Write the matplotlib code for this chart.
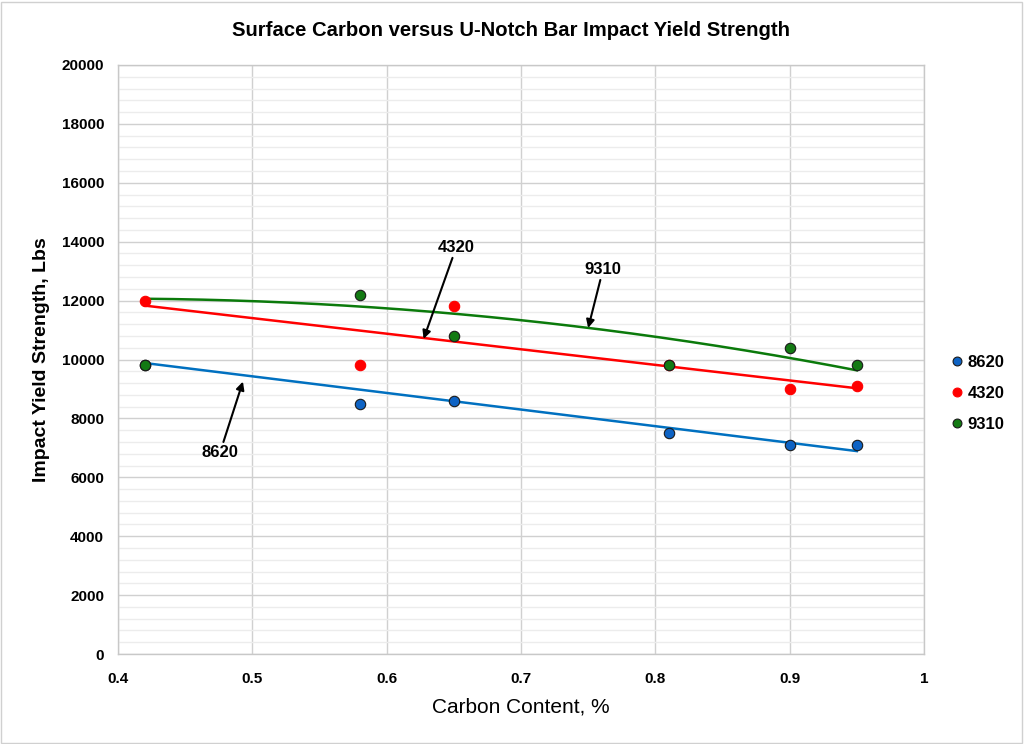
import numpy as np
import matplotlib
matplotlib.use("Agg")
import matplotlib.pyplot as plt
from matplotlib.ticker import MultipleLocator
from matplotlib.patches import Rectangle

plt.rcParams['font.family'] = ['Liberation Sans', 'DejaVu Sans']

# ---- data ----
carbon = [0.42, 0.58, 0.65, 0.81, 0.90, 0.95]
y_8620 = [9800, 8500, 8600, 7500, 7100, 7100]
y_4320 = [12000, 9800, 11800, 9800, 9000, 9100]
y_9310 = [9800, 12200, 10800, 9800, 10400, 9800]

# trendline readings (as drawn in the reference)
trend_x_8620 = [0.42, 0.95]
trend_y_8620 = [9880, 6890]
trend_x_9310 = [0.42, 0.50, 0.58, 0.70, 0.81, 0.90, 0.95]
trend_y_9310 = [12020, 12000, 11850, 11400, 10570, 10020, 9710]

colors = {"8620": "#0E63C4", "4320": "#FF0000", "9310": "#137A13"}
line_colors = {"8620": "#0070C0", "4320": "#FF0000", "9310": "#0B7A0B"}

fig = plt.figure(figsize=(10.24, 7.44), dpi=100)
W, H = 1024, 744
ax = fig.add_axes([118 / W, 1 - 654 / H, (924 - 118) / W, (654 - 65) / H])

# outer chart border
fig.patches.append(Rectangle((1 / W, 1 / H), 1 - 3 / W, 1 - 3 / H, transform=fig.transFigure,
                             fill=False, edgecolor="#d0d0d0", linewidth=1))

ax.set_xlim(0.4, 1.0)
ax.set_ylim(0, 20000)
ax.xaxis.set_major_locator(MultipleLocator(0.1))
ax.yaxis.set_major_locator(MultipleLocator(2000))
ax.yaxis.set_minor_locator(MultipleLocator(400))
ax.grid(which="major", color="#d0d0d0", linewidth=1.0)
ax.grid(which="minor", axis="y", color="#ececec", linewidth=1.0)
ax.set_axisbelow(True)
for s in ax.spines.values():
    s.set_color("#c8c8c8")
    s.set_linewidth(1.0)
ax.tick_params(which="both", length=0)
ax.tick_params(axis="x", pad=13)
ax.tick_params(axis="y", pad=10)
ax.set_xticks(np.arange(0.4, 1.01, 0.1))
ax.set_xticklabels(["0.4", "0.5", "0.6", "0.7", "0.8", "0.9", "1"])
for lab in ax.get_xticklabels() + ax.get_yticklabels():
    lab.set_fontweight("bold")
    lab.set_fontsize(11)

# trendlines
xs = np.linspace(0.42, 0.95, 200)
p8620 = np.polyfit(trend_x_8620, trend_y_8620, 1)
p4320 = np.polyfit(carbon, y_4320, 1)
p9310 = np.polyfit(trend_x_9310, trend_y_9310, 2)
ax.plot(xs, np.polyval(p8620, xs), color=line_colors["8620"], lw=1.8, zorder=3)
ax.plot(xs, np.polyval(p4320, xs), color=line_colors["4320"], lw=1.8, zorder=3)
ax.plot(xs, np.polyval(p9310, xs), color=line_colors["9310"], lw=1.8, zorder=3)

# points
ax.plot(carbon, y_8620, "o", ms=7.5, color=colors["8620"], mec="#1a1a1a", mew=0.8, zorder=4, label="8620")
ax.plot(carbon, y_4320, "o", ms=7.5, color=colors["4320"], mec=colors["4320"], mew=0.8, zorder=5, label="4320")
ax.plot(carbon, y_9310, "o", ms=7.5, color=colors["9310"], mec="#1a1a1a", mew=0.8, zorder=6, label="9310")

leg = ax.legend(loc="center left", bbox_to_anchor=(1.012, 0.442), frameon=False,
                prop={"weight": "bold", "size": 12}, handletextpad=0.15,
                labelspacing=0.95, markerscale=0.85, handlelength=1.0)

ax.set_xlabel("Carbon Content, %", fontsize=15, labelpad=8)
ax.set_ylabel("Impact Yield Strength, Lbs", fontsize=14, fontweight="bold", labelpad=8)
fig.text(511 / W, 1 - 30 / H, "Surface Carbon versus U-Notch Bar Impact Yield Strength",
         ha="center", va="center", fontsize=14.6, fontweight="bold")

arrowprops = dict(arrowstyle="-|>", color="black", lw=1.5, mutation_scale=12, shrinkA=0, shrinkB=0)
ax.annotate("4320", xy=(0.6275, 10700), xytext=(0.638, 13800), ha="left", va="center",
            fontsize=12, fontweight="bold", arrowprops=arrowprops, zorder=7)
ax.annotate("9310", xy=(0.750, 11070), xytext=(0.761, 13050), ha="center", va="center",
            fontsize=12, fontweight="bold", arrowprops=arrowprops, zorder=7)
ax.annotate("8620", xy=(0.493, 9250), xytext=(0.476, 6850), ha="center", va="center",
            fontsize=12, fontweight="bold", arrowprops=arrowprops, zorder=7)

fig.savefig("out.png", dpi=100)
